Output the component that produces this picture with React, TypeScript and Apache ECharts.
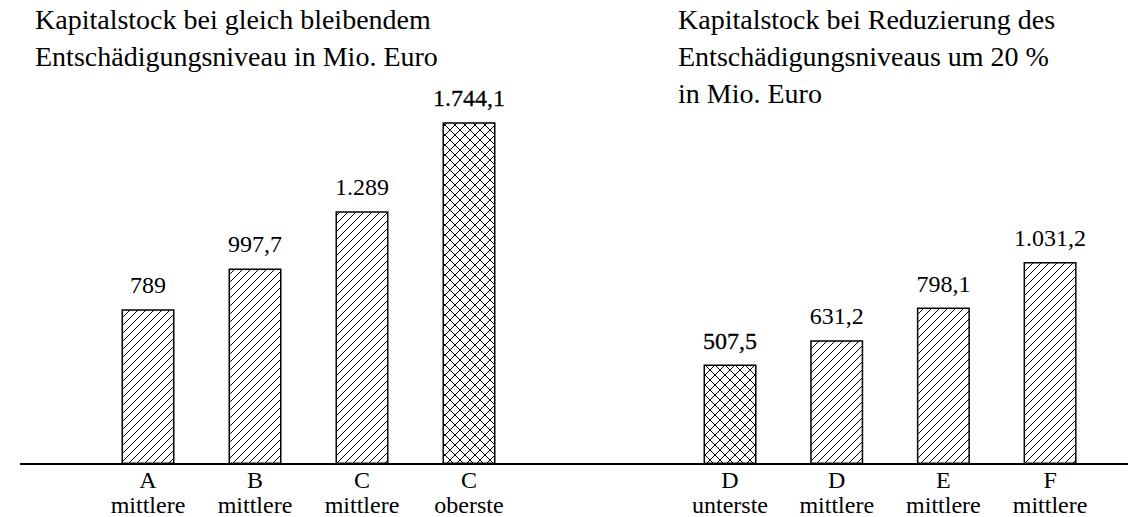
import React, { useEffect, useRef } from "react";
import * as echarts from "echarts";

const leftCategories = ["A\nmittlere", "B\nmittlere", "C\nmittlere", "C\noberste"];
const leftValues = [789, 997.7, 1289, 1744.1];
const leftCross = [false, false, false, true];

const rightCategories = ["D\nunterste", "D\nmittlere", "E\nmittlere", "F\nmittlere"];
const rightValues = [507.5, 631.2, 798.1, 1031.2];
const rightCross = [true, false, false, false];

const leftTitle = "Kapitalstock bei gleich bleibendem\nEntschädigungsniveau in Mio. Euro";
const rightTitle = "Kapitalstock bei Reduzierung des\nEntschädigungsniveaus um 20 %\nin Mio. Euro";

const FONT = "'Liberation Serif', 'Times New Roman', serif";

function formatDE(v: number): string {
  const parts = String(v).split(".");
  const intPart = parts[0].replace(/\B(?=(\d{3})+(?!\d))/g, ".");
  return parts.length > 1 ? intPart + "," + parts[1] : intPart;
}

function makePattern(cross: boolean): HTMLCanvasElement {
  const P = cross ? 10 : 8;
  const c = document.createElement("canvas");
  c.width = P;
  c.height = P;
  const ctx = c.getContext("2d")!;
  ctx.fillStyle = "#fff";
  ctx.fillRect(0, 0, P, P);
  ctx.strokeStyle = "#000";
  ctx.lineWidth = 1;
  const seg = (x1: number, y1: number, x2: number, y2: number) => {
    ctx.beginPath();
    ctx.moveTo(x1, y1);
    ctx.lineTo(x2, y2);
    ctx.stroke();
  };
  seg(-1, P + 1, P + 1, -1);
  seg(-1, 1, 1, -1);
  seg(P - 1, P + 1, P + 1, P - 1);
  if (cross) {
    seg(-1, -1, P + 1, P + 1);
    seg(P - 1, -1, P + 1, 1);
    seg(-1, P - 1, 1, P + 1);
  }
  return c;
}

export default function App() {
  const ref = useRef<HTMLDivElement>(null);

  useEffect(() => {
    if (!ref.current) return;
    const chart = echarts.init(ref.current, undefined, { renderer: "svg" });
    const hatch = makePattern(false);
    const cross = makePattern(true);

    const buildData = (values: number[], crossFlags: boolean[]) =>
      values.map((v, i) => ({
        value: v,
        itemStyle: {
          color: { image: crossFlags[i] ? cross : hatch, repeat: "repeat" },
          borderColor: "#000",
          borderWidth: 1.5,
        },
        label: crossFlags[i]
          ? { textBorderColor: "#000", textBorderWidth: 0.3 }
          : {},
      }));

    const labelStyle = {
      show: true,
      position: "top",
      distance: 12,
      fontFamily: FONT,
      fontSize: 24,
      lineHeight: 24,
      color: "#000",
      formatter: (p: any) => formatDE(p.value),
    };

    const axisLabel = {
      fontFamily: FONT,
      fontSize: 24,
      color: "#000",
      margin: 3,
      interval: 0,
      formatter: (val: string) => {
        const [a, b] = val.split("\n");
        return "{a|" + a + "}\n{b|" + b + "}";
      },
      rich: {
        a: { fontFamily: FONT, fontSize: 24, lineHeight: 26, color: "#000" },
        b: { fontFamily: FONT, fontSize: 24, lineHeight: 24, color: "#000" },
      },
    };

    const gridTop = 72;
    const gridBottom = 53;
    const titleStyle = { fontFamily: FONT, fontSize: 28, fontWeight: "normal", lineHeight: 37, color: "#000" };

    chart.setOption({
      animation: false,
      backgroundColor: "#fff",
      title: [
        { text: leftTitle, left: 35, top: 1, padding: 0, textStyle: titleStyle },
        { text: rightTitle, left: 678, top: 1, padding: 0, textStyle: titleStyle },
      ],
      grid: [
        { left: 94.5, width: 428, top: gridTop, bottom: gridBottom, containLabel: false, outerBoundsMode: "none" },
        { left: 676.7, width: 426.7, top: gridTop, bottom: gridBottom, containLabel: false, outerBoundsMode: "none" },
      ],
      xAxis: [
        {
          type: "category",
          gridIndex: 0,
          data: leftCategories,
          axisLine: { show: false },
          axisTick: { show: false },
          axisLabel,
        },
        {
          type: "category",
          gridIndex: 1,
          data: rightCategories,
          axisLine: { show: false },
          axisTick: { show: false },
          axisLabel,
        },
      ],
      yAxis: [
        { type: "value", gridIndex: 0, min: 0, max: 2000, show: false },
        { type: "value", gridIndex: 1, min: 0, max: 2000, show: false },
      ],
      series: [
        {
          type: "bar",
          xAxisIndex: 0,
          yAxisIndex: 0,
          barWidth: 53,
          data: buildData(leftValues, leftCross),
          label: labelStyle,
        },
        {
          type: "bar",
          xAxisIndex: 1,
          yAxisIndex: 1,
          barWidth: 53,
          data: buildData(rightValues, rightCross),
          label: labelStyle,
        },
      ],
      graphic: [
        {
          type: "line",
          z: 10,
          shape: { x1: 20, y1: 464, x2: 1128, y2: 464 },
          style: { stroke: "#000", lineWidth: 2 },
        },
      ],
    });

    return () => chart.dispose();
  }, []);

  return (
    <div
      ref={ref}
      style={{ position: "fixed", left: 0, top: 0, width: 1128, height: 517, background: "#fff" }}
    />
  );
}
